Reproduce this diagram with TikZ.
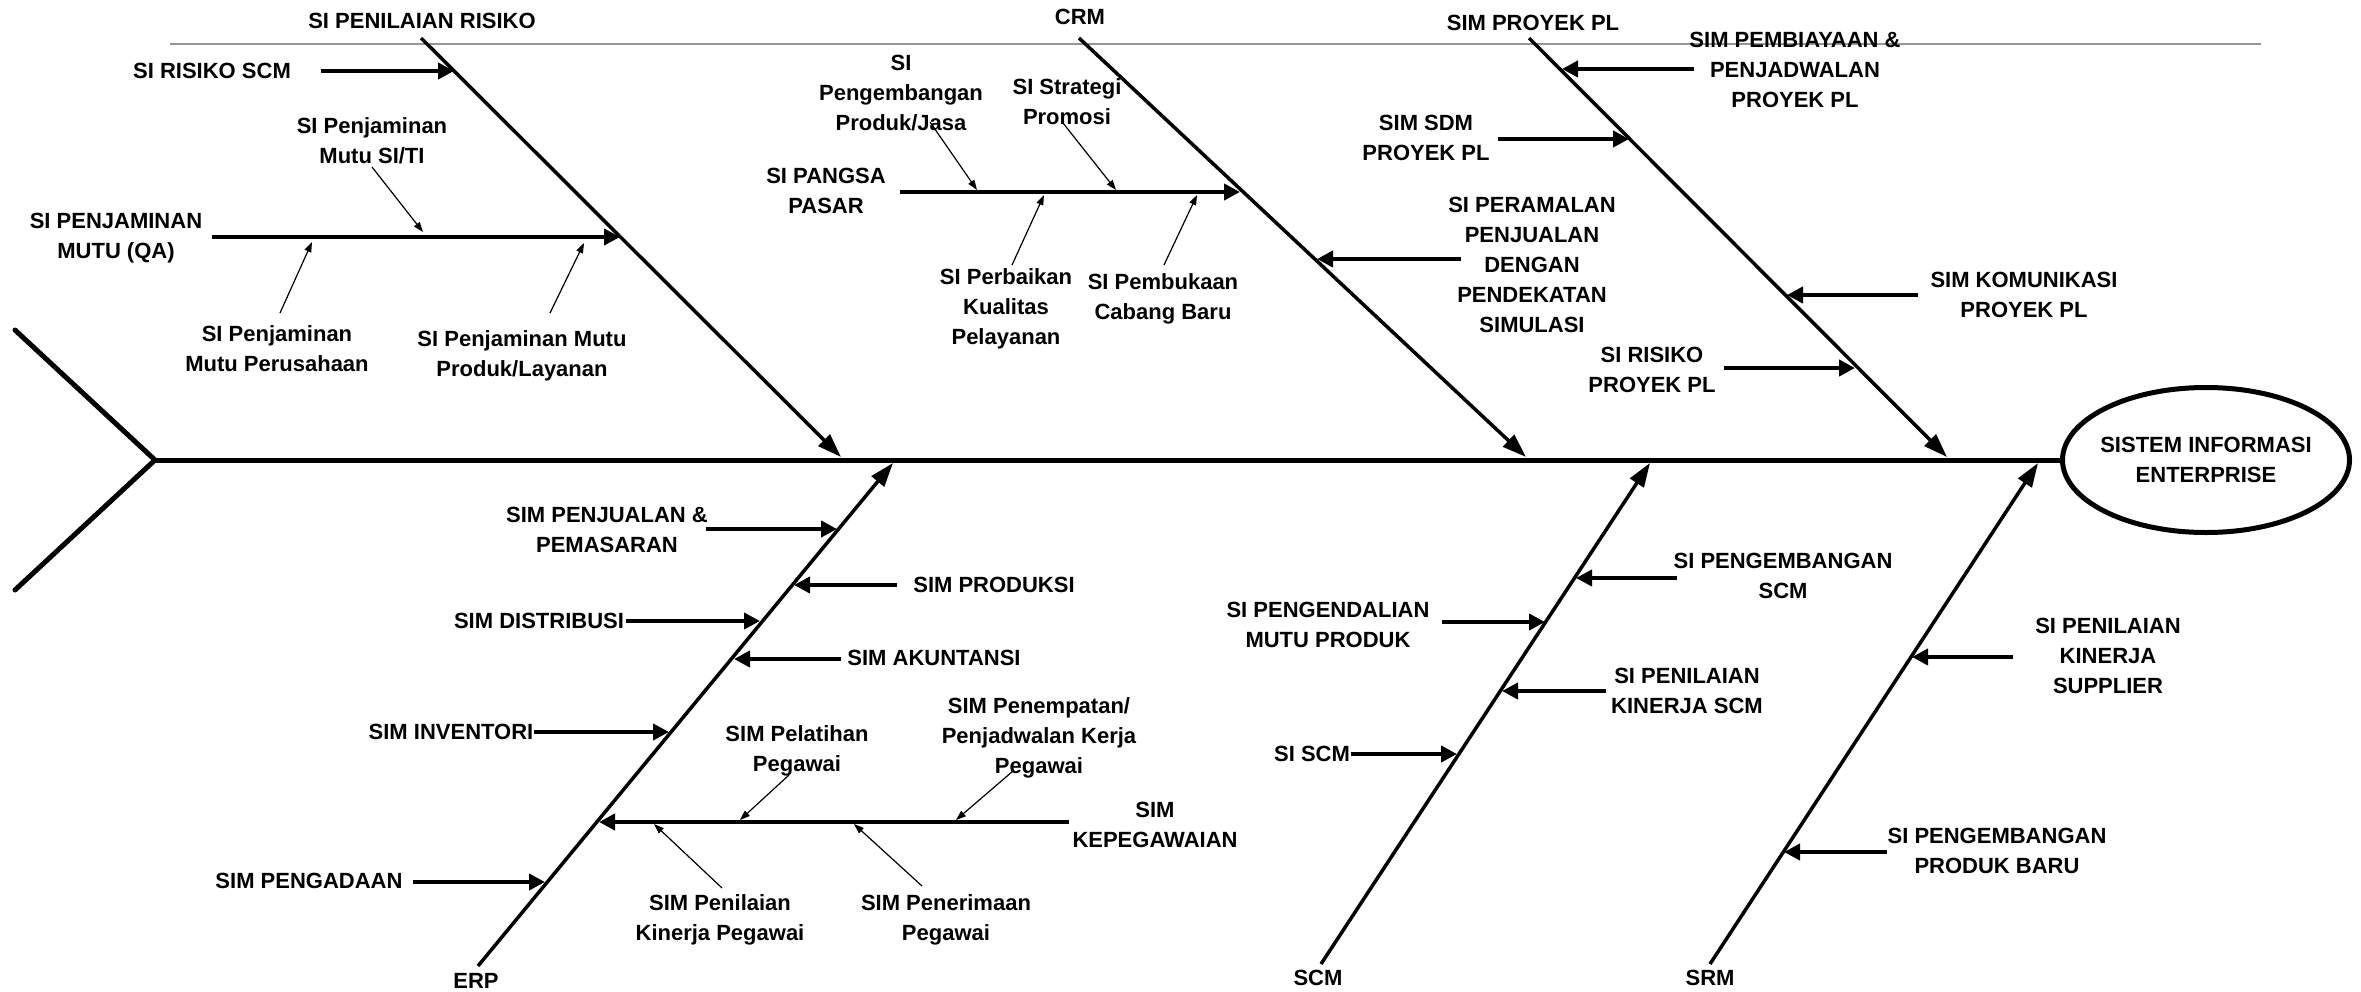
\documentclass[tikz,border=0pt]{standalone}
\usepackage{fontspec}
\setmainfont{Liberation Sans}
\usetikzlibrary{arrows.meta,shapes.geometric}
\definecolor{rulegray}{RGB}{150,150,150}
\tikzset{
 lbl/.style={font=\fontsize{22}{30}\selectfont\bfseries, align=center, inner sep=0pt, anchor=north},
 spine/.style={line width=5pt},
 bone/.style={line width=3.5pt, -{Triangle[length=24pt,width=16pt]}},
 subarr/.style={line width=4.5pt, -{Triangle[length=16pt,width=16pt]}},
 thinarr/.style={line width=1.2pt, -{Triangle[length=10pt,width=7pt]}},
}
\begin{document}
\begin{tikzpicture}[x=1pt,y=-1pt]
\useasboundingbox (0,0) rectangle (2361,991);
\fill[white] (0,0) rectangle (2361,991);
% grey rule
\coordinate (g1) at (170,44); \coordinate (g2) at (2261,44);
\draw[rulegray, line width=2.5pt] (g1) -- (g2);
% head
\node[draw, ellipse, line width=5pt, minimum width=287pt, minimum height=145pt, inner sep=0pt] (sie) at (2206,460) {};
\node[lbl, anchor=center] (siet) at (sie.center) {SISTEM INFORMASI\\ENTERPRISE};
% spine and tail
\coordinate (tj) at (155,460);
\coordinate (tu) at (15,330);
\coordinate (tl) at (15,590);
\draw[spine, line cap=round, line join=miter] (tu) -- (tj) -- (tl);
\draw[spine] (tj) -- (sie.west);
% bones
\coordinate (b1s) at (421,38);   \coordinate (b1e) at (841,457);
\coordinate (b2s) at (1079,38);  \coordinate (b2e) at (1526,457);
\coordinate (b3s) at (1529,38);  \coordinate (b3e) at (1947,457);
\coordinate (b4s) at (478,966);  \coordinate (b4e) at (893,463);
\coordinate (b5s) at (1321,964); \coordinate (b5e) at (1650,463);
\coordinate (b6s) at (1710,964); \coordinate (b6e) at (2038,463);
\foreach \i in {1,...,6} {\draw[bone] (b\i s) -- (b\i e);}
% bone labels
\node[lbl] (lrisk) at (422,13) {SI PENILAIAN RISIKO};
\node[lbl] (lcrm) at (1080,9) {CRM};
\node[lbl] (lpl) at (1533,15) {SIM PROYEK PL};
\node[lbl] (lerp) at (476,973) {ERP};
\node[lbl] (lscm) at (1318,970) {SCM};
\node[lbl] (lsrm) at (1710,970) {SRM};
% ---- SI PENILAIAN RISIKO
\node[lbl] (l1) at (212,63) {SI RISIKO SCM};
\coordinate (a1s) at (321,71); \coordinate (a1e) at (454,71);
\draw[subarr] (a1s) -- (a1e);
\node[lbl] (l2) at (116,213) {SI PENJAMINAN\\MUTU (QA)};
\coordinate (a2s) at (212,237); \coordinate (a2e) at (620,237);
\draw[subarr] (a2s) -- (a2e);
\node[lbl] (l3) at (372,117) {SI Penjaminan\\Mutu SI/TI};
\coordinate (t3s) at (372,167); \coordinate (t3e) at (423,232);
\draw[thinarr] (t3s) -- (t3e);
\node[lbl] (l4) at (277,325) {SI Penjaminan\\Mutu Perusahaan};
\coordinate (t4s) at (280,313); \coordinate (t4e) at (312,242);
\draw[thinarr] (t4s) -- (t4e);
\node[lbl] (l5) at (522,330) {SI Penjaminan Mutu\\Produk/Layanan};
\coordinate (t5s) at (550,313); \coordinate (t5e) at (584,243);
\draw[thinarr] (t5s) -- (t5e);
% ---- CRM
\node[lbl] (l6) at (826,168) {SI PANGSA\\PASAR};
\coordinate (a6s) at (900,192); \coordinate (a6e) at (1240,192);
\draw[subarr] (a6s) -- (a6e);
\node[lbl] (l7) at (901,55) {SI\\Pengembangan\\Produk/Jasa};
\coordinate (t7s) at (930,122); \coordinate (t7e) at (977,190);
\draw[thinarr] (t7s) -- (t7e);
\node[lbl] (l8) at (1067,78) {SI Strategi\\Promosi};
\coordinate (t8s) at (1063,123); \coordinate (t8e) at (1116,190);
\draw[thinarr] (t8s) -- (t8e);
\node[lbl] (l9) at (1006,268) {SI Perbaikan\\Kualitas\\Pelayanan};
\coordinate (t9s) at (1012,265); \coordinate (t9e) at (1044,195);
\draw[thinarr] (t9s) -- (t9e);
\node[lbl] (l10) at (1163,273) {SI Pembukaan\\Cabang Baru};
\coordinate (t10s) at (1164,265); \coordinate (t10e) at (1197,195);
\draw[thinarr] (t10s) -- (t10e);
\node[lbl] (l11) at (1532,197) {SI PERAMALAN\\PENJUALAN\\DENGAN\\PENDEKATAN\\SIMULASI};
\coordinate (a11s) at (1461,259); \coordinate (a11e) at (1317,259);
\draw[subarr] (a11s) -- (a11e);
% ---- SIM PROYEK PL
\node[lbl] (l12) at (1795,32) {SIM PEMBIAYAAN \&\\PENJADWALAN\\PROYEK PL};
\coordinate (a12s) at (1694,69); \coordinate (a12e) at (1562,69);
\draw[subarr] (a12s) -- (a12e);
\node[lbl] (l13) at (1426,115) {SIM SDM\\PROYEK PL};
\coordinate (a13s) at (1498,139); \coordinate (a13e) at (1629,139);
\draw[subarr] (a13s) -- (a13e);
\node[lbl] (l14) at (2024,272) {SIM KOMUNIKASI\\PROYEK PL};
\coordinate (a14s) at (1918,295); \coordinate (a14e) at (1787,295);
\draw[subarr] (a14s) -- (a14e);
\node[lbl] (l15) at (1652,347) {SI RISIKO\\PROYEK PL};
\coordinate (a15s) at (1724,368); \coordinate (a15e) at (1855,368);
\draw[subarr] (a15s) -- (a15e);
% ---- ERP
\node[lbl] (l16) at (607,507) {SIM PENJUALAN \&\\PEMASARAN};
\coordinate (a16s) at (706,529); \coordinate (a16e) at (837,529);
\draw[subarr] (a16s) -- (a16e);
\node[lbl] (l17) at (994,577) {SIM PRODUKSI};
\coordinate (a17s) at (897,585); \coordinate (a17e) at (794,585);
\draw[subarr] (a17s) -- (a17e);
\node[lbl] (l18) at (539,613) {SIM DISTRIBUSI};
\coordinate (a18s) at (626,621); \coordinate (a18e) at (760,621);
\draw[subarr] (a18s) -- (a18e);
\node[lbl] (l19) at (934,650) {SIM AKUNTANSI};
\coordinate (a19s) at (841,659); \coordinate (a19e) at (734,659);
\draw[subarr] (a19s) -- (a19e);
\node[lbl] (l20) at (451,724) {SIM INVENTORI};
\coordinate (a20s) at (534,732); \coordinate (a20e) at (669,732);
\draw[subarr] (a20s) -- (a20e);
\node[lbl] (l21) at (309,873) {SIM PENGADAAN};
\coordinate (a21s) at (413,882); \coordinate (a21e) at (545,882);
\draw[subarr] (a21s) -- (a21e);
\node[lbl] (l22) at (1155,802) {SIM\\KEPEGAWAIAN};
\coordinate (a22s) at (1069,822); \coordinate (a22e) at (599,822);
\draw[subarr] (a22s) -- (a22e);
\node[lbl] (l23) at (797,725) {SIM Pelatihan\\Pegawai};
\coordinate (t23s) at (789,775); \coordinate (t23e) at (740,820);
\draw[thinarr] (t23s) -- (t23e);
\node[lbl] (l24) at (1039,697) {SIM Penempatan/\\Penjadwalan Kerja\\Pegawai};
\coordinate (t24s) at (1013,771); \coordinate (t24e) at (956,820);
\draw[thinarr] (t24s) -- (t24e);
\node[lbl] (l25) at (720,894) {SIM Penilaian\\Kinerja Pegawai};
\coordinate (t25s) at (722,888); \coordinate (t25e) at (654,824);
\draw[thinarr] (t25s) -- (t25e);
\node[lbl] (l26) at (946,894) {SIM Penerimaan\\Pegawai};
\coordinate (t26s) at (922,886); \coordinate (t26e) at (854,824);
\draw[thinarr] (t26s) -- (t26e);
% ---- SCM
\node[lbl] (l27) at (1783,553) {SI PENGEMBANGAN\\SCM};
\coordinate (a27s) at (1677,578); \coordinate (a27e) at (1576,578);
\draw[subarr] (a27s) -- (a27e);
\node[lbl] (l28) at (1328,602) {SI PENGENDALIAN\\MUTU PRODUK};
\coordinate (a28s) at (1442,622); \coordinate (a28e) at (1545,622);
\draw[subarr] (a28s) -- (a28e);
\node[lbl] (l29) at (1687,668) {SI PENILAIAN\\KINERJA SCM};
\coordinate (a29s) at (1606,691); \coordinate (a29e) at (1502,691);
\draw[subarr] (a29s) -- (a29e);
\node[lbl] (l30) at (1312,746) {SI SCM};
\coordinate (a30s) at (1351,754); \coordinate (a30e) at (1457,754);
\draw[subarr] (a30s) -- (a30e);
% ---- SRM
\node[lbl] (l31) at (2108,618) {SI PENILAIAN\\KINERJA\\SUPPLIER};
\coordinate (a31s) at (2013,657); \coordinate (a31e) at (1912,657);
\draw[subarr] (a31s) -- (a31e);
\node[lbl] (l32) at (1997,828) {SI PENGEMBANGAN\\PRODUK BARU};
\coordinate (a32s) at (1887,852); \coordinate (a32e) at (1784,852);
\draw[subarr] (a32s) -- (a32e);
\end{tikzpicture}
\end{document}
